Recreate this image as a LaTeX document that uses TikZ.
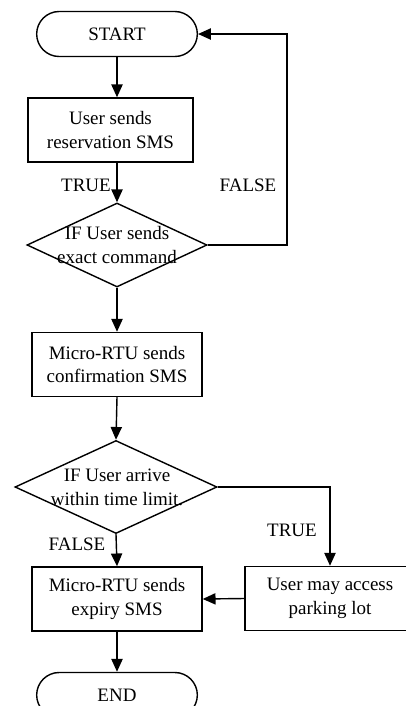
\documentclass[tikz,border=0pt]{standalone}
\usepackage{fontspec}
\setmainfont{Liberation Serif}
\usetikzlibrary{shapes.geometric,shapes.misc,arrows.meta}
\tikzset{term/.style={draw, rounded rectangle, minimum width=4.25cm, minimum height=1.125cm},
         proc/.style={draw, rectangle, align=center, minimum width=4.25cm, minimum height=1.6cm},
         dec/.style={draw, diamond, inner sep=0pt},
         arr/.style={->, >={Triangle[length=3.2mm,width=2.8mm]}},
         txt/.style={align=center}
}

\begin{document}
\begin{tikzpicture}[x=0.025cm, y=-0.025cm, line width=1pt, font=\fontsize{13.5}{17}\selectfont]
\useasboundingbox (0,0) rectangle (406,706);

% upper part: reservation request
\node[term] (start) at (117,34) {START};
\node[proc, minimum width=4.125cm] (sms) at (110.5,130) {User sends\\reservation SMS};
\node[dec, minimum width=4.5cm, minimum height=2.1cm] (cmd) at (117,245) {};
\node[txt] (cmdtxt) at (117,245) {IF User sends\\exact command};
\coordinate (loop) at (287,245);

\draw[arr] (start.south) -- (start.south |- sms.north);
\draw[arr] (start.south |- sms.south) -- (cmd.north);
\draw[arr] (cmd.east) -- (loop) |- (start.east);
\node (true1) at (86,185) {TRUE};
\node (false1) at (248,185) {FALSE};

% lower part: confirmation and timeout
\node[proc] (confirm) at (117,364.5) {Micro-RTU sends\\confirmation SMS};
\node[dec, minimum width=5.05cm, minimum height=2.325cm] (arrive) at (116,487) {};
\node[txt] (arrivetxt) at (117,487) {IF User arrive\\within time limit.};
\node[proc] (expiry) at (117,599) {Micro-RTU sends\\expiry SMS};
\node[proc] (park) at (330,598.5) {User may access\\parking lot};
\node[term] (end) at (117,695) {END};

\draw[arr] (cmd.south) -- (confirm.north);
\draw[arr] (confirm.south) -- (arrive.north);
\draw[arr] (arrive.south) -- (expiry.north);
\draw[arr] (arrive.east) -| (park.north);
\draw[arr] (park.west) -- (expiry.east);
\draw[arr] (expiry.south) -- (end.north);
\node (true2) at (292,530) {TRUE};
\node (false2) at (77,544) {FALSE};

\end{tikzpicture}
\end{document}
